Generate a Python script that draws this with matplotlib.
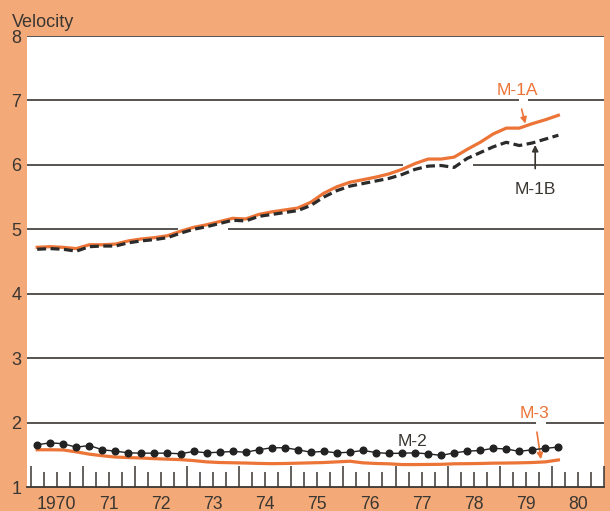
import matplotlib
matplotlib.use("Agg")
import matplotlib.pyplot as plt
import numpy as np

plt.rcParams['font.family'] = ['Liberation Sans', 'DejaVu Sans']

# quarterly velocity, 1970 Q1 .. 1980 Q1
quarters = 1970.125 + 0.25 * np.arange(41)
m1a = [4.72, 4.73, 4.72, 4.70, 4.76, 4.76, 4.77, 4.82, 4.85, 4.87,
       4.90, 4.97, 5.03, 5.07, 5.12, 5.17, 5.16, 5.23, 5.27, 5.30,
       5.33, 5.42, 5.56, 5.66, 5.73, 5.77, 5.81, 5.86, 5.93, 6.02,
       6.09, 6.09, 6.12, 6.24, 6.35, 6.48, 6.57, 6.57, 6.64, 6.70, 6.77]
m1b = [4.69, 4.70, 4.69, 4.66, 4.73, 4.74, 4.74, 4.79, 4.82, 4.84,
       4.87, 4.94, 5.00, 5.04, 5.09, 5.14, 5.13, 5.20, 5.23, 5.26,
       5.29, 5.37, 5.50, 5.60, 5.67, 5.71, 5.75, 5.79, 5.85, 5.93,
       5.98, 5.99, 5.96, 6.10, 6.19, 6.28, 6.35, 6.30, 6.34, 6.40, 6.46]
m2 = [1.655, 1.686, 1.671, 1.618, 1.644, 1.578, 1.556, 1.531, 1.525, 1.525,
      1.525, 1.516, 1.551, 1.531, 1.540, 1.551, 1.540, 1.578, 1.609, 1.609,
      1.578, 1.540, 1.553, 1.530, 1.540, 1.567, 1.535, 1.520, 1.525, 1.530,
      1.515, 1.490, 1.530, 1.556, 1.567, 1.600, 1.590, 1.553, 1.578, 1.600, 1.620]
m3 = [1.578, 1.578, 1.575, 1.545, 1.510, 1.485, 1.465, 1.457, 1.450, 1.440,
      1.432, 1.425, 1.410, 1.390, 1.380, 1.376, 1.372, 1.366, 1.362, 1.365,
      1.370, 1.375, 1.380, 1.390, 1.400, 1.375, 1.365, 1.360, 1.348, 1.348,
      1.350, 1.352, 1.360, 1.362, 1.365, 1.370, 1.372, 1.375, 1.380, 1.390, 1.420]
year_labels = ['1970', '71', '72', '73', '74', '75', '76', '77', '78', '79', '80']

bg = '#F4AA78'
orange = '#EC7437'
dark = '#3a3632'

fig = plt.figure(figsize=(6.1, 5.11), dpi=100)
fig.patch.set_facecolor(bg)
ax = fig.add_axes([27 / 610, 1 - 487 / 511, 577 / 610, 451 / 511])
ax.set_facecolor('white')
ax.set_xlim(1969.93, 1981.0)
ax.set_ylim(1, 8)

for s in ['top', 'right', 'left']:
    ax.spines[s].set_visible(False)
ax.spines['bottom'].set_color(dark)
ax.spines['bottom'].set_linewidth(1.3)

# horizontal rules, broken where lines and labels cross
gaps = {7: (1979.36, 1979.55), 6: (1977.15, 1978.49),
        5: (1972.83, 1973.79), 2: (1979.70, 1979.89)}
x0, x1 = ax.get_xlim()
for y in range(2, 9):
    if y in gaps:
        g0, g1 = gaps[y]
        ax.hlines([y, y], [x0, g1], [g0, x1], color=dark, lw=1.2, zorder=1)
    else:
        ax.hlines(y, x0, x1, color=dark, lw=1.2, zorder=1)

ax.plot(quarters, m1a, color=orange, lw=2.3, zorder=3)
ax.plot(quarters, m1b, color='#2b2b2b', lw=2.3, dashes=(2.8, 1.4), zorder=4)
ax.plot(quarters, m3, color=orange, lw=2.3, zorder=3)
ax.plot(quarters, m2, color='#222222', lw=1.0, marker='o', ms=4.8, zorder=4)

# axis ticks
years = np.arange(1970, 1982)
ax.set_xticks(years)
ax.set_xticks(np.arange(1970, 1981.01, 0.25), minor=True)
ax.tick_params(axis='x', which='major', direction='in', length=15, width=1.1,
               color=dark, labelbottom=False)
ax.tick_params(axis='x', which='minor', direction='in', length=10.5, width=1.1,
               color=dark)
ax.set_yticks(range(1, 9))
ax.tick_params(axis='y', length=0, pad=4, labelsize=13, labelcolor=dark)

for yr, lab in zip(years[:-1], year_labels):
    ax.annotate(lab, xy=(yr + 0.5, 0), xycoords=('data', 'axes fraction'),
                xytext=(0, -15.5), textcoords='offset points', ha='center',
                va='baseline', fontsize=12.7, color=dark, annotation_clip=False)

fig.text(12 / 610, 1 - 27 / 511, 'Velocity', fontsize=13, color=dark,
         ha='left', va='baseline')

# series labels
ax.annotate('M-1A', xy=(1979.49, 6.64), xytext=(1979.33, 7.15),
            ha='center', va='center', fontsize=12.5, color=orange,
            arrowprops=dict(arrowstyle='-|>', color=orange, lw=1.2,
                            shrinkA=6, shrinkB=0, mutation_scale=9))
ax.annotate('M-1B', xy=(1979.68, 6.31), xytext=(1979.68, 5.61),
            ha='center', va='center', fontsize=12.5, color=dark,
            arrowprops=dict(arrowstyle='-|>', color=dark, lw=1.2,
                            shrinkA=8, shrinkB=0, mutation_scale=9))
ax.text(1977.32, 1.706, 'M-2', ha='center', va='center', fontsize=12.5,
        color=dark)
ax.annotate('M-3', xy=(1979.79, 1.43), xytext=(1979.66, 2.14),
            ha='center', va='center', fontsize=12.5, color=orange,
            arrowprops=dict(arrowstyle='-|>', color=orange, lw=1.2,
                            shrinkA=6, shrinkB=0, mutation_scale=9))

fig.savefig('out.png', dpi=100, facecolor=bg)
